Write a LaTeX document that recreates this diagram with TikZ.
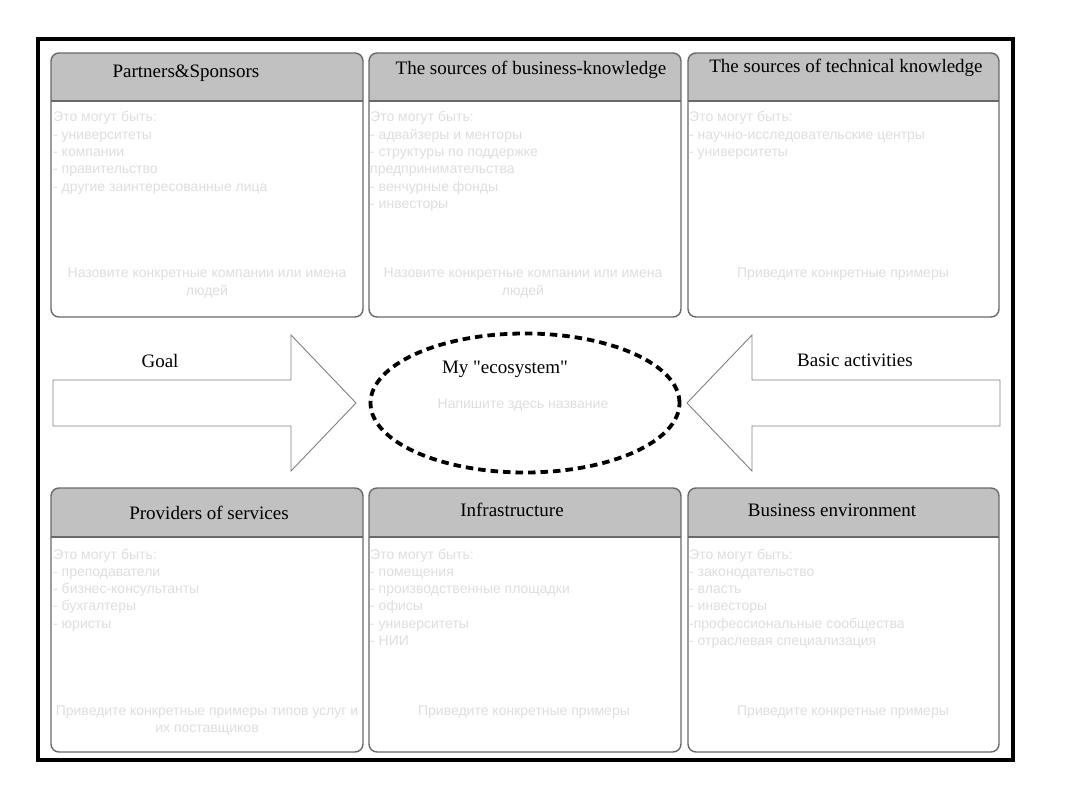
\documentclass[tikz,border=0pt]{standalone}
\usepackage{fontspec}
\setmainfont{Liberation Serif}
\newfontfamily\serifq{Liberation Serif}[Ligatures=TeXOff]
\newfontfamily\arialf{Liberation Sans}
\usetikzlibrary{shapes.geometric}
\definecolor{hdr}{RGB}{193,193,193}
\definecolor{bord}{RGB}{105,105,105}
\definecolor{faint}{RGB}{222,222,222}
\definecolor{arrc}{RGB}{128,128,128}
\tikzset{
  boxstyle/.style={draw=bord, line width=1.4pt, rounded corners=8pt, inner sep=0pt},
  titletext/.style={font=\fontsize{19}{22}\selectfont, inner sep=0pt, anchor=base},
  hint/.style={font=\arialf\fontsize{14}{17.3}\selectfont, text=faint, inner sep=0pt, align=left, anchor=base west},
  hintc/.style={font=\arialf\fontsize{14}{17.3}\selectfont, text=faint, inner sep=0pt, align=center, anchor=base},
  blockarrow/.style={draw=arrc, line width=0.9pt, fill=white, line join=miter},
  eco/.style={ellipse, draw=black, line width=3.8pt, dash pattern=on 7.5pt off 5pt, inner sep=0pt},
}
\newcommand\mybox[6]{%
  \begin{scope}
    \clip[rounded corners=8pt] (#2,#3) rectangle (#4,#5);
    \fill[hdr] (#2,#3) rectangle (#4,#6);
  \end{scope}
  \draw[bord, line width=1.8pt] (#2,#6) -- (#4,#6);
  \node (#1) [boxstyle, minimum width={(#4-#2)*1pt}, minimum height={(#5-#3)*1pt}] at ({(#2+#4)/2},{(#3+#5)/2}) {};
}
\begin{document}
\begin{tikzpicture}[x=1pt,y=-1pt]
\useasboundingbox (0,0) rectangle (1080,810);
\fill[white] (0,0) rectangle (1080,810);
\draw[line width=3.5pt] (38,39) rectangle (1013,760);

% boxes
\mybox{ps}{51}{53}{363}{317}{101}
\mybox{bk}{369}{53}{681}{317}{101}
\mybox{tk}{688}{53}{999}{317}{101}
\mybox{pv}{51}{488}{363}{752}{537}
\mybox{inf}{369}{488}{681}{752}{537}
\mybox{be}{688}{488}{999}{752}{537}

% titles
\node (tps) [titletext] at (186,78) {Partners\&Sponsors};
\node (tbk) [titletext] at (531,75) {The sources of business-knowledge};
\node (ttk) [titletext] at (846,73) {The sources of technical knowledge};
\node (tpv) [titletext] at (209,519) {Providers of services};
\node (tinf) [titletext] at (512,516) {Infrastructure};
\node (tbe) [titletext] at (832,516) {Business environment};

% hints top row (anchor = baseline of last line)
\node (hps) [hint] at (53,191.2) {Это могут быть:\\- университеты\\- компании\\- правительство\\- другие заинтересованные лица};
\node (hps2) [hintc] at (207,295.3) {Назовите конкретные компании или имена\\людей};
\node (hbk) [hint] at (370,208.5) {Это могут быть:\\- адвайзеры и менторы\\- структуры по поддержке\\предпринимательства\\- венчурные фонды\\- инвесторы};
\node (hbk2) [hintc] at (523,295.3) {Назовите конкретные компании или имена\\людей};
\node (htk) [hint] at (689,156.6) {Это могут быть:\\- научно-исследовательские центры\\- университеты};
\node (htk2) [hintc] at (843,278) {Приведите конкретные примеры};

% hints bottom row
\node (hpv) [hint] at (53,628.2) {Это могут быть:\\- преподаватели\\- бизнес-консультанты\\- бухгалтеры\\- юристы};
\node (hpv2) [hintc] at (207,732.3) {Приведите конкретные примеры типов услуг и\\их поставщиков};
\node (hinf) [hint] at (370,645.5) {Это могут быть:\\- помещения\\- производственные площадки\\- офисы\\- университеты\\- НИИ};
\node (hinf2) [hintc] at (524,715) {Приведите конкретные примеры};
\node (hbe) [hint] at (689,645.5) {Это могут быть:\\- законодательство\\- власть\\- инвесторы\\-профессиональные сообщества\\- отраслевая специализация};
\node (hbe2) [hintc] at (843,715) {Приведите конкретные примеры};

% block arrows
\draw[blockarrow] (53,380) -- (291,380) -- (291,335) -- (356,403) -- (291,471) -- (291,426) -- (53,426) -- cycle;
\draw[blockarrow] (1000,380) -- (752,380) -- (752,335) -- (687,403) -- (752,471) -- (752,426) -- (1000,426) -- cycle;
\node (goal) [titletext] at (160,368) {Goal};
\node (basic) [titletext] at (855,367) {Basic activities};

% ecosystem
\node (ecos) [eco, minimum width=309pt, minimum height=139pt] at (525,403) {};
\node (myeco) [titletext, font=\serifq\fontsize{19}{22}\selectfont] at (505,374) {My "ecosystem"};
\node (name) [hintc] at (523,409) {Напишите здесь название};
\end{tikzpicture}
\end{document}
